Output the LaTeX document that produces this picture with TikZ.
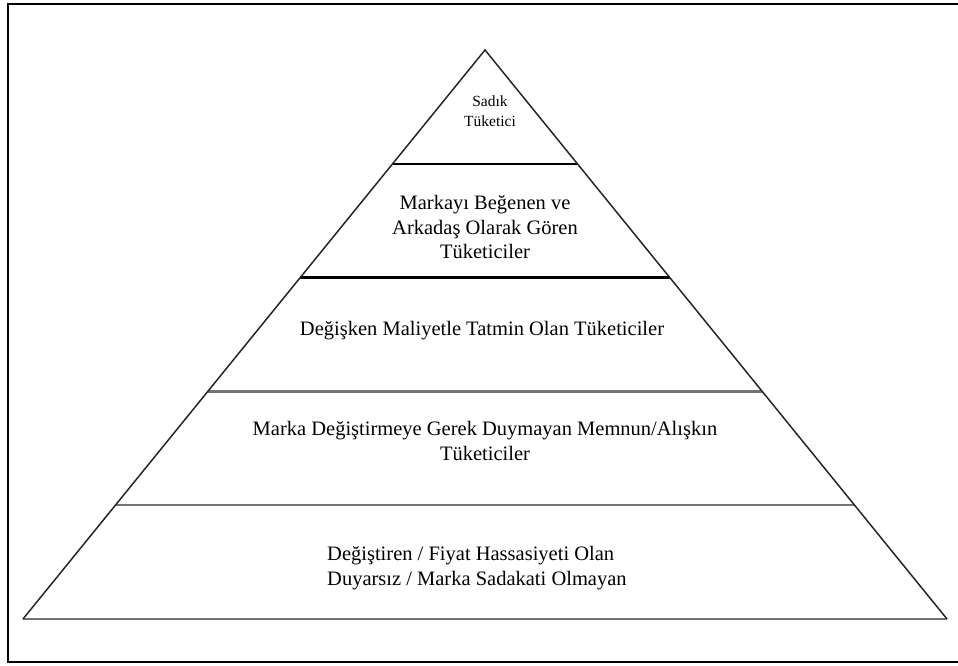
\documentclass[tikz,border=0pt]{standalone}
\usepackage{fontspec}
\setmainfont{Liberation Serif}
\usetikzlibrary{calc}

\tikzset{
  frameline/.style={line width=2.8pt, draw=black},
  sideline/.style={line width=1.5pt, draw=black!85},
  darkbar/.style={line width=2.4pt, draw=black},
  greybar/.style={line width=2.4pt, draw=black!55},
  tiertext/.style={inner sep=0pt, align=center, text=black,
    font=\fontsize{20.5}{24.5}\selectfont},
  toptext/.style={inner sep=0pt, align=center, text=black,
    font=\fontsize{15.5}{20}\selectfont},
}

\begin{document}
\begin{tikzpicture}[x=1pt, y=-1pt]
  % page area and outer frame (its right edge runs past the page)
  \useasboundingbox (0,0) rectangle (958,666);
  \clip (0,0) rectangle (958,666);
  \fill[white] (0,0) rectangle (958,666);
  \draw[frameline] (975,4) -- (8,4) -- (8,662) -- (975,662);

  % pyramid corners
  \coordinate (apex) at (485,50);
  \coordinate (bl) at (23,619);
  \coordinate (br) at (947,619);

  % tier separators at equal heights
  \foreach \k/\s in {1/darkbar, 2/darkbar, 3/greybar, 4/greybar} {
    \coordinate (l\k) at ($(apex)!\k/5!(bl)$);
    \coordinate (r\k) at ($(apex)!\k/5!(br)$);
    \draw[\s] (l\k) -- (r\k);
  }
  \draw[greybar] (bl) -- (br);
  \draw[sideline, line join=miter] (bl) -- (apex) -- (br);

  % tier labels
  \node[toptext] (t1) at (490,111) {Sadık\\Tüketici};
  \node[tiertext] (t2) at (485,227) {Markayı Beğenen ve\\Arkadaş Olarak Gören\\Tüketiciler};
  \node[tiertext, anchor=base] (t3) at (482,335) {Değişken Maliyetle Tatmin Olan Tüketiciler};
  \node[tiertext] (t4) at (485,441) {Marka Değiştirmeye Gerek Duymayan Memnun/Alışkın\\Tüketiciler};
  \node[tiertext, align=left, anchor=west] (t5) at (327,568) {Değiştiren / Fiyat Hassasiyeti Olan\\Duyarsız / Marka Sadakati Olmayan};
\end{tikzpicture}
\end{document}
